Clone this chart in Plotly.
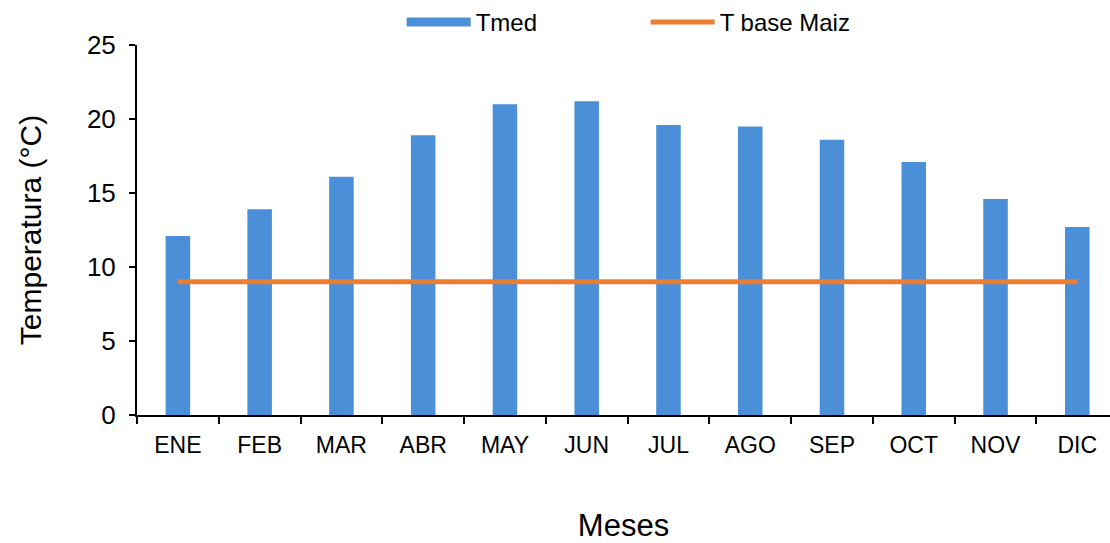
import plotly.graph_objects as go

meses = ["ENE", "FEB", "MAR", "ABR", "MAY", "JUN", "JUL", "AGO", "SEP", "OCT", "NOV", "DIC"]
tmed = [12.1, 13.9, 16.1, 18.9, 21.0, 21.2, 19.6, 19.5, 18.6, 17.1, 14.6, 12.7]
t_base_maiz = [9.0] * 12

BLUE = "#4A8FD8"
ORANGE = "#ED7D31"
FONT = "Liberation Sans, Arial, sans-serif"

fig = go.Figure()

fig.add_trace(go.Bar(
    x=meses, y=tmed, name="Tmed", marker=dict(color=BLUE, line=dict(width=0)),
    showlegend=False,
))
fig.add_trace(go.Scatter(
    x=meses, y=t_base_maiz, name="T base Maiz", mode="lines",
    line=dict(color=ORANGE, width=5), showlegend=False,
))
# legend entries drawn as wide swatches
fig.add_trace(go.Scatter(
    x=[None], y=[None], name="Tmed", mode="lines",
    line=dict(color=BLUE, width=9),
))
fig.add_trace(go.Scatter(
    x=[None], y=[None], name="T base Maiz", mode="lines",
    line=dict(color=ORANGE, width=5),
))

fig.update_layout(
    width=1110, height=543,
    margin=dict(l=137, r=0, t=45, b=128),
    paper_bgcolor="white", plot_bgcolor="white",
    font=dict(family=FONT, color="#000000", size=22),
    bargap=0.7,
    legend=dict(
        orientation="h", x=0.272, y=1.062, xanchor="left", yanchor="middle",
        font=dict(size=24), itemwidth=64,
        entrywidth=165, entrywidthmode="pixels",
        bgcolor="rgba(0,0,0,0)",
    ),
    xaxis=dict(
        type="category", range=[-0.5, 11.4],
        showline=True, linecolor="black", linewidth=2,
        ticks="outside", tickson="boundaries", ticklen=7, tickwidth=2, tickcolor="black",
        tickfont=dict(size=23), ticklabelstandoff=8,
        showgrid=False, zeroline=False,
        title=dict(text="Meses", font=dict(size=31), standoff=65),
    ),
    yaxis=dict(
        range=[0, 25], tickvals=[0, 5, 10, 15, 20, 25],
        showline=True, linecolor="black", linewidth=2,
        ticks="outside", ticklen=6, tickwidth=2, tickcolor="black",
        tickfont=dict(size=26), ticklabelstandoff=8,
        showgrid=False, zeroline=False,
        title=dict(text="Temperatura (°C)", font=dict(size=30), standoff=36),
    ),
)

fig.write_html("out.html")
